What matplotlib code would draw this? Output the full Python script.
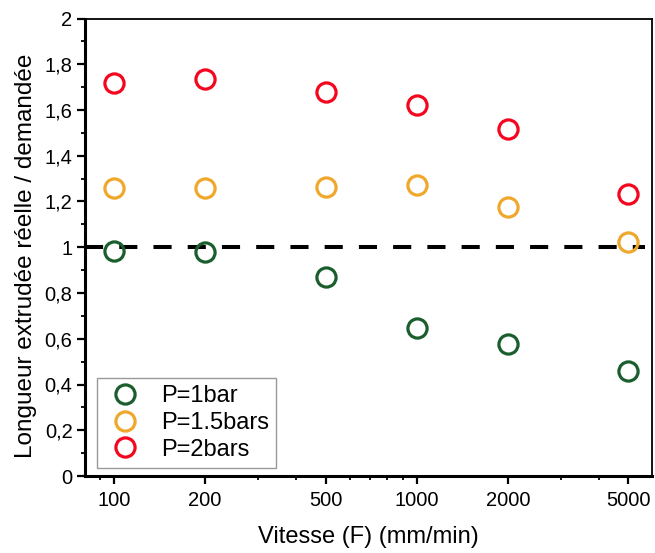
import matplotlib
matplotlib.use("Agg")
import matplotlib.pyplot as plt
from matplotlib.ticker import FixedLocator, FuncFormatter, MultipleLocator, LogLocator, NullFormatter

plt.rcParams['font.family'] = ['Liberation Sans', 'DejaVu Sans']

speeds = [100, 200, 500, 1000, 2000, 5000]
p1 = [0.984, 0.980, 0.868, 0.649, 0.579, 0.458]
p15 = [1.260, 1.260, 1.265, 1.272, 1.174, 1.021]
p2 = [1.716, 1.734, 1.677, 1.622, 1.515, 1.231]
labels = ["P=1bar", "P=1.5bars", "P=2bars"]
colors = ["#1B5E2E", "#EFA82C", "#F5051E"]
xticks = [100, 200, 500, 1000, 2000, 5000]

fig = plt.figure(figsize=(6.55, 5.53), dpi=100)
ax = fig.add_axes([85/655, 1-476/553, (652-85)/655, (476-18.5)/553])

ax.axhline(1.0, xmin=0, xmax=0.988, color='black', lw=2.9, dashes=(4.5, 4.0), zorder=1)

for ys, lab, c in zip([p1, p15, p2], labels, colors):
    ax.plot(speeds, ys, linestyle='none', marker='o', markersize=13.8,
            markerfacecolor='none', markeredgecolor=c, markeredgewidth=2.3,
            label=lab, zorder=3)

ax.set_xscale('log')
ax.set_xlim(80.2, 5990)
ax.set_ylim(0, 2)

ax.xaxis.set_major_locator(FixedLocator(xticks))
ax.xaxis.set_major_formatter(FuncFormatter(lambda v, p: f"{int(round(v))}"))
ax.xaxis.set_minor_locator(LogLocator(base=10, subs=range(1, 10), numticks=20))
ax.xaxis.set_minor_formatter(NullFormatter())

ax.yaxis.set_major_locator(MultipleLocator(0.2))
ax.yaxis.set_minor_locator(MultipleLocator(0.1))
def yfmt(v, p):
    s = f"{v:.1f}"
    if s.endswith(".0"):
        s = s[:-2]
    return s.replace(".", ",")
ax.yaxis.set_major_formatter(FuncFormatter(yfmt))

ax.tick_params(axis='both', which='major', direction='out', length=6, width=1.6,
               labelsize=14.5, pad=3)
ax.tick_params(axis='x', which='major', pad=5)
ax.tick_params(axis='both', which='minor', direction='out', length=3, width=1.3)

ax.spines['left'].set_linewidth(2.2)
ax.spines['bottom'].set_linewidth(2.2)
ax.spines['top'].set_linewidth(1.3)
ax.spines['right'].set_linewidth(1.3)

ax.set_xlabel("Vitesse (F) (mm/min)", fontsize=17, labelpad=11)
ax.set_ylabel("Longueur extrudée réelle / demandée", fontsize=17.5)
ax.yaxis.set_label_coords(-0.085, 0.481)

leg = ax.legend(loc='lower left', bbox_to_anchor=(0.021, 0.018), borderaxespad=0,
                fontsize=17, frameon=True, fancybox=False, edgecolor='#808080',
                handletextpad=0.63, borderpad=0.3, labelspacing=0.2,
                handlelength=1.8)
leg.get_frame().set_linewidth(1.0)

fig.savefig("out.png", dpi=100)
